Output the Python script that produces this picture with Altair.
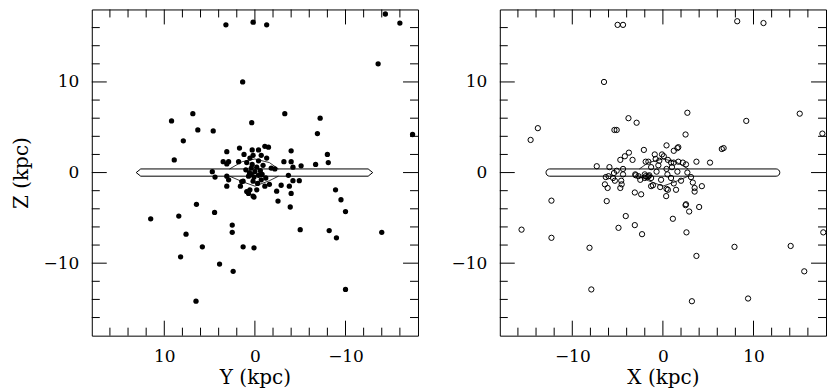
import altair as alt
import pandas as pd

# ---------------- data ----------------
# Left panel: Y (kpc) vs Z (kpc), filled dots
left_y = [3.2, 0.2, -1.3, -14.4, -16.0, -13.6, 1.35, -17.4,
          9.2, 6.85, 6.3, 4.6, 7.9, 8.9, 0.35, -3.3, -7.2, -6.9, -8.0, -8.1, -6.7, -5.1, -4.0, -3.2, -4.0, -4.2,
          -3.7, -4.2, -4.9, -3.8, -2.9, -2.4, -4.0, -2.55, -3.9,
          -8.9, -9.5, -10.0, -5.0, -8.2, -9.0, -14.0, -10.0,
          11.5, 8.4, 6.45, 4.45, 7.6, 8.2, 5.8, 2.5, 2.5, 1.3, 0.1, 3.9, 2.4, 6.5,
          3.1, 1.7, 3.5, 3.1, 2.9, 4.7, 4.4, 3.1, 2.9, 3.1,
          1.2, 0.3, -0.4, -1.1, -1.5, 0.55, 0.9, -0.4, -1.3, -1.8, 0.4, 0.0, -0.4, 0.7, -0.7, 0.2, 1.3, 1.6,
          -1.2, -1.6, 0.55, -0.2, 0.7, 0.2, -1.1, 0.3, -0.2, 0.1, -0.6, 0.6, -0.9, 1.0, 0.2, -0.7, 1.8, -2.2,
          1.45, 0.9, 0.1, -0.3, -0.8, 0.4]
left_z = [16.3, 16.6, 16.3, 17.5, 16.5, 12.0, 10.0, 4.2,
          5.7, 6.5, 4.7, 4.6, 3.5, 1.4, 5.5, 6.5, 6.0, 4.3, 2.0, 1.1, 0.9, 0.75, 2.4, 1.2, 1.2, 0.6,
          -0.3, -0.9, -0.9, -1.5, -1.4, -2.05, -2.3, -3.15, -3.8,
          -1.9, -3.0, -4.3, -6.3, -6.4, -7.2, -6.6, -12.9,
          -5.1, -4.8, -3.5, -4.4, -6.8, -9.3, -8.2, -5.8, -6.6, -8.2, -8.3, -10.1, -10.9, -14.2,
          2.3, 2.7, 1.2, 0.95, 1.2, 0.1, -0.5, -0.4, -0.8, -1.5,
          2.0, 2.5, 2.5, 2.9, 2.8, 1.6, 1.1, 1.3, 1.6, 0.5, 0.5, 0.1, -0.3, -0.4, -0.8, -0.95, -0.95, -1.5,
          -0.6, -1.3, -1.9, -1.9, -2.3, -2.6, -1.5, 0.9, 0.6, -0.5, 0.2, 0.0, 0.8, 0.3, 1.9, 1.9, 1.2, 0.4,
          -1.0, -2.1, -2.7, -1.2, -0.2, -0.2]

# Right panel: X (kpc) vs Z (kpc), open circles
right_x = [-5.0, -4.4, 8.2, 11.1, -6.5, 2.7, -3.8, -2.9, -5.35, -5.1, -13.8, -14.6, 9.2, 15.1, 17.6, 2.5,
           6.5, 6.7, 5.2, -7.3, 3.7,
           3.2, 7.9, 9.4, 14.1, 15.6, 17.7, -15.6, -12.3, -12.3, -8.1, -7.9, -6.2, -4.9, -4.1, -3.1, -2.3,
           1.1, 2.6, 3.7, 2.5, 2.9, 4.0,
           -5.9, -4.7, -4.2, -3.75, -3.35, -2.1, 0.4, 1.2, 1.6, 1.7, -1.6, -0.9, -0.4, 0.1, 0.55, 1.2, 1.7,
           2.2, 2.55, 2.7, 3.1, 3.3, 3.5, 3.5, 4.3, 2.55,
           1.45, 0.55, 0.36, -1.3, -2.0, -2.7, -3.0, -2.4, -3.1, -4.55, -4.7, -6.4, -6.1, -5.5, -6.0, -5.1,
           -4.4, -4.6, -5.3, -4.4, -3.05, -2.5, -1.6, -1.1, -0.2, -0.7, -1.3, 0.4, 0.9, -0.8, -0.1, -1.9,
           1.6, 0.9, -2.0, -1.3, -1.7, -1.5, -1.9, 0.4, 1.2, -0.3, 0.5, 1.0, -0.5, 2.0, -5.4, -6.3]
right_z = [16.3, 16.3, 16.7, 16.5, 10.0, 6.6, 6.0, 5.5, 4.7, 4.7, 4.9, 3.6, 5.7, 6.5, 4.3, 4.2,
           2.6, 2.7, 1.1, 0.7, 1.2,
           -14.2, -8.2, -13.9, -8.1, -10.9, -6.6, -6.3, -3.1, -7.2, -8.3, -12.9, -3.15, -6.1, -4.8, -5.8, -6.8,
           -5.1, -6.6, -9.2, -3.6, -4.3, -3.8,
           0.6, 1.4, 1.8, 2.2, 1.4, 2.5, 3.0, 2.4, 2.7, 2.8, 1.2, 2.0, 1.3, 1.8, 1.4, 1.1, 1.2,
           1.1, 0.9, 0.0, -0.5, -1.1, -1.7, -2.1, -1.5, -3.5,
           -1.9, -1.9, -2.6, -1.5, -0.2, -0.4, -0.3, -2.4, -2.2, -1.3, -1.7, -1.3, -1.7, -0.6, -0.4, 0.2,
           0.4, -0.9, -0.9, -0.2, -0.2, -0.8, -0.4, -1.4, -0.8, 0.1, 0.6, 0.4, 1.1, 1.5, 2.0, 1.2,
           0.1, -0.6, -0.6, -0.6, -0.5, -0.3, -0.4, -1.8, -1.2, -1.6, -0.2, 0.6, 0.8, -0.9, -0.05, -0.5]

# Galactic disk outline (kpc): end tip, end corner, half thickness
disk_left_pos = [13.1, 12.6, -12.5, -13.0]
disk_left_top = [0.0, 0.4, 0.4, 0.0]
disk_left_bot = [0.0, -0.4, -0.4, 0.0]
disk_right_x = [-12.9]
disk_right_x2 = [12.9]
disk_half = [0.4]

# Bulge outline (kpc)
bulge_pos = [2.8, 1.4, 0.0, -1.6, -2.6]
bulge_top = [0.4, 1.2, 1.5, 1.1, 0.4]
bulge_bot = [-0.4, -1.0, -1.5, -0.9, -0.4]

label_values = [-10, 0, 10]
major_ticks = [-10, 0, 10]
minor_ticks = [-16, -14, -12, -8, -6, -4, -2, 2, 4, 6, 8, 12, 14, 16]

# ---------------- chart ----------------
W, H = 327, 327
FONT = "DejaVu Serif"
MINOR_LEN, MAJOR_LEN = 8, 15


def make_enc(xscale, xtitle, ytitle, show_ytitle=True):
    xaxis = alt.Axis(values=label_values, titlePadding=3)
    yaxis = alt.Axis(values=label_values, titlePadding=12)

    def X(field):
        return alt.X(field, scale=xscale, title=xtitle, axis=xaxis)

    def Y(field):
        if show_ytitle:
            return alt.Y(field, scale=ys, title=ytitle, axis=yaxis)
        return alt.Y(field, scale=ys, title=None, axis=yaxis)
    return X, Y


def tick_layers(X, Y):
    layers = []
    for vals, L in ((minor_ticks, MINOR_LEN), (major_ticks, MAJOR_LEN)):
        base = alt.Chart(pd.DataFrame({"v": vals}))
        r = dict(color="black", strokeWidth=1)
        layers.append(base.mark_rule(**r).encode(y=Y("v:Q"), x=alt.value(0), x2=alt.value(L)))
        layers.append(base.mark_rule(**r).encode(y=Y("v:Q"), x=alt.value(W), x2=alt.value(W - L)))
        layers.append(base.mark_rule(**r).encode(x=X("v:Q"), y=alt.value(H), y2=alt.value(H - L)))
        layers.append(base.mark_rule(**r).encode(x=X("v:Q"), y=alt.value(0), y2=alt.value(L)))
    return layers


def bulge_layer(X, Y):
    rows = []
    for p, t, b in zip(bulge_pos, bulge_top, bulge_bot):
        rows.append({"p": p, "z": t, "side": "top"})
        rows.append({"p": p, "z": b, "side": "bot"})
    return alt.Chart(pd.DataFrame(rows)).mark_line(color="black", strokeWidth=0.8).encode(
        x=X("p:Q"), y=Y("z:Q"), detail="side:N")


ys = alt.Scale(domain=[-18, 18], nice=False, zero=False)

# ---- left panel ----
xs_l = alt.Scale(domain=[18, -18], nice=False, zero=False)
XL, YL = make_enc(xs_l, "Y (kpc)", "Z (kpc)")

left_scatter = alt.Chart(pd.DataFrame({"Y": left_y, "Z": left_z})).mark_point(
    shape="circle", filled=True, color="black", size=28, opacity=1, clip=True
).encode(x=XL("Y:Q"), y=YL("Z:Q"))
disk_l = alt.Chart(pd.DataFrame({"p": disk_left_pos, "t": disk_left_top, "b": disk_left_bot})).mark_area(
    fill="white", stroke="black", strokeWidth=1, opacity=1
).encode(x=XL("p:Q"), y=YL("t:Q"), y2="b:Q")
left = alt.layer(disk_l, bulge_layer(XL, YL), left_scatter, *tick_layers(XL, YL)).properties(
    width=W, height=H)

# ---- right panel ----
xs_r = alt.Scale(domain=[-18, 18], nice=False, zero=False)
XR, YR = make_enc(xs_r, "X (kpc)", None, show_ytitle=False)

right_scatter = alt.Chart(pd.DataFrame({"X": right_x, "Z": right_z})).mark_point(
    shape="circle", filled=False, color="black", size=28, strokeWidth=1, opacity=1, clip=True
).encode(x=XR("X:Q"), y=YR("Z:Q"))
disk_r = alt.Chart(pd.DataFrame({"x": disk_right_x, "x2": disk_right_x2, "h": disk_half})).transform_calculate(
    lo="-datum.h"
).mark_rect(fill="white", stroke="black", strokeWidth=1, cornerRadius=4).encode(
    x=XR("x:Q"), x2="x2:Q", y=YR("h:Q"), y2="lo:Q")
right = alt.layer(disk_r, bulge_layer(XR, YR), right_scatter, *tick_layers(XR, YR)).properties(
    width=W, height=H)

chart = alt.hconcat(left, right, spacing=31).properties(
    padding={"left": 2, "top": 0, "right": 0, "bottom": 0},
    background="white",
).configure_view(
    stroke="black", strokeWidth=1
).configure_axis(
    ticks=False, tickSize=0, domain=False, grid=False,
    labelFont=FONT, labelFontSize=17, labelColor="black", labelPadding=13,
    titleFont=FONT, titleFontSize=20, titleFontWeight="normal", titleColor="black",
)

chart.save("out.html", embed_options={"renderer": "svg", "actions": False})
